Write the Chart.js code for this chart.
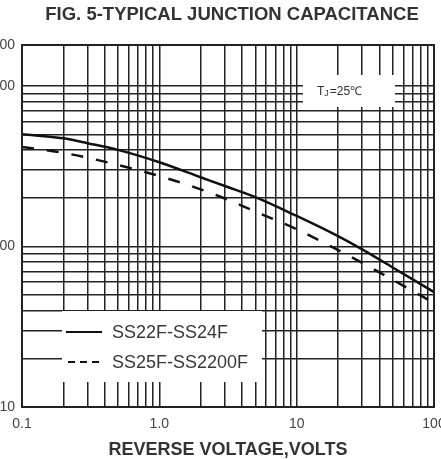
<!DOCTYPE html>
<html>
<head>
<meta charset="utf-8">
<script src="https://cdn.jsdelivr.net/npm/chart.js@4.4.1/dist/chart.umd.min.js"></script>
<style>
  body { margin: 0; background: #fff; }
  canvas { display: block; }
</style>
</head>
<body>
<canvas id="capChart" width="441" height="459"></canvas>
<script>
// reverse voltage (V)
const voltage = [0.1, 0.2, 0.3, 0.5, 1, 2, 3, 5, 10, 20, 30, 50, 100];
// junction capacitance (pF)
const capSS22F = [500, 472, 440, 400, 335, 270, 238, 203, 155, 116, 96, 74, 52];
const capSS25F = [417, 383, 357, 322, 275, 227, 199, 165, 128, 95, 79, 62, 44.5];

const seriesNames = ['SS22F-SS24F', 'SS25F-SS2200F'];

// axis ticks
const xMajor = [0.1, 1, 10, 100];
const xTickLabels = ['0.1', '1.0', '10', '100'];
const yMajor = [10, 100, 1000];
const yMax = 1800;
const yTickLabels = ['10', '100', '1000', '1800'];

// grid lines: 1..9 in every decade
function decadeTicks(first, last) {
  const out = [];
  for (let d = first; d < last; d *= 10) {
    for (let k = 1; k < 10; k++) out.push(k * d);
  }
  out.push(last);
  return out;
}
const xGrid = decadeTicks(0.1, 100);
const yGrid = decadeTicks(10, 1000).concat([yMax]);

function labelFor(v, majors, labels) {
  const i = majors.findIndex(m => Math.abs(m - v) / m < 1e-6);
  return i >= 0 ? labels[i] : '';
}

// 🔲 white boxes, frame, legend, note
const extras = {
  id: 'extras',
  beforeDatasetsDraw(chart) {
    const ctx = chart.ctx;
    const a = chart.chartArea;
    ctx.save();
    ctx.fillStyle = '#fff';
    // legend box
    ctx.fillRect(a.left + 40, a.bottom - 96, 200, 71);
    // T_J box
    ctx.fillRect(a.left + 281, a.top + 30, 92, 32);
    ctx.restore();
  },
  afterDatasetsDraw(chart) {
    const ctx = chart.ctx;
    const a = chart.chartArea;
    ctx.save();

    // frame
    ctx.strokeStyle = '#222';
    ctx.lineWidth = 2;
    ctx.strokeRect(a.left, a.top, a.right - a.left, a.bottom - a.top);

    // title
    ctx.fillStyle = '#333';
    ctx.font = 'bold 18.5px "Liberation Sans", Arial, sans-serif';
    ctx.textAlign = 'center';
    ctx.textBaseline = 'middle';
    ctx.fillText('FIG. 5-TYPICAL JUNCTION CAPACITANCE', 232, 15);

    // legend
    ctx.textAlign = 'left';
    ctx.font = '18px "Liberation Sans", Arial, sans-serif';
    chart.data.datasets.forEach((ds, i) => {
      const y = a.bottom - 75 + i * 30;
      ctx.strokeStyle = ds.borderColor;
      ctx.lineWidth = 2;
      ctx.setLineDash(i === 0 ? [] : [7, 5]);
      ctx.beginPath();
      ctx.moveTo(a.left + 44 + (i ? 2 : 0), y);
      ctx.lineTo(a.left + 80, y);
      ctx.stroke();
      ctx.setLineDash([]);
      ctx.fillStyle = '#383838';
      ctx.fillText(ds.label, a.left + 90, y + 1);
    });

    // T_J note
    ctx.fillStyle = '#333';
    let x = a.left + 295;
    const ty = a.top + 47;
    ctx.font = '12px "Liberation Sans", Arial, sans-serif';
    ctx.fillText('T', x, ty);
    x += ctx.measureText('T').width;
    ctx.font = '9px "Liberation Sans", Arial, sans-serif';
    ctx.fillText('J', x, ty + 2);
    x += ctx.measureText('J').width + 1;
    ctx.font = '12px "Liberation Sans", Arial, sans-serif';
    ctx.fillText('=25\u2103', x, ty);

    ctx.restore();
  }
};

new Chart(document.getElementById('capChart'), {
  type: 'line',
  data: {
    datasets: [
      {
        label: seriesNames[0],
        data: voltage.map((v, i) => ({ x: v, y: capSS22F[i] })),
        borderColor: '#111',
        borderWidth: 2.5,
        pointRadius: 0,
        cubicInterpolationMode: 'monotone',
        fill: false
      },
      {
        label: seriesNames[1],
        data: voltage.map((v, i) => ({ x: v, y: capSS25F[i] })),
        borderColor: '#111',
        borderWidth: 2.5,
        borderDash: [12, 13],
        pointRadius: 0,
        cubicInterpolationMode: 'monotone',
        fill: false
      }
    ]
  },
  options: {
    responsive: false,
    animation: false,
    layout: { padding: { top: 45, right: 7, left: 0, bottom: 0 } },
    plugins: {
      legend: { display: false },
      tooltip: { enabled: false }
    },
    scales: {
      x: {
        type: 'logarithmic',
        min: 0.1,
        max: 100,
        afterBuildTicks: s => { s.ticks = xGrid.map(v => ({ value: v })); },
        afterFit: s => { s.height = 52; s.paddingLeft = 0; s.paddingRight = 0; },
        grid: { color: '#222', lineWidth: 1.5, drawTicks: false },
        border: { display: false },
        ticks: {
          autoSkip: false,
          maxRotation: 0,
          padding: 9,
          color: '#444',
          font: { family: '"Liberation Sans", Arial, sans-serif', size: 14 },
          callback: v => labelFor(v, xMajor, xTickLabels)
        },
        title: {
          display: true,
          text: 'REVERSE VOLTAGE,VOLTS',
          color: '#333',
          font: { family: '"Liberation Sans", Arial, sans-serif', size: 18, weight: 'bold', lineHeight: 1 },
          padding: { top: 0, bottom: 0 }
        }
      },
      y: {
        type: 'logarithmic',
        min: 10,
        max: yMax,
        afterBuildTicks: s => { s.ticks = yGrid.map(v => ({ value: v })); },
        afterFit: s => { s.width = 22; s.paddingTop = 0; s.paddingBottom = 0; },
        grid: { color: '#222', lineWidth: 1.5, drawTicks: false },
        border: { display: false },
        ticks: {
          autoSkip: false,
          padding: 7,
          color: '#444',
          font: { family: '"Liberation Sans", Arial, sans-serif', size: 14 },
          callback: v => labelFor(v, yMajor.concat([yMax]), yTickLabels)
        }
      }
    }
  },
  plugins: [extras]
});
</script>
</body>
</html>
